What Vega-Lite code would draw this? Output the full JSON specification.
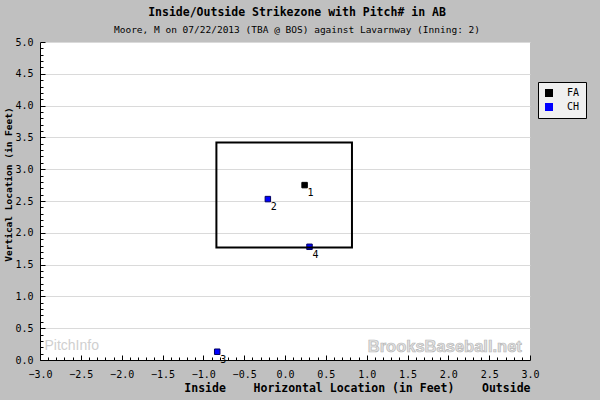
{
  "$schema": "https://vega.github.io/schema/vega-lite/v6.json",
  "autosize": {"type": "none"},
  "width": 490,
  "height": 318,
  "padding": {"left": 40, "top": 42, "right": 70, "bottom": 40},
  "background": "#c0c0c0",
  "config": {
    "view": {"fill": "#ffffff", "stroke": null},
    "font": "DejaVu Sans Mono"
  },
  "title": {
    "text": "Inside/Outside Strikezone with Pitch# in AB",
    "subtitle": "Moore, M on 07/22/2013 (TBA @ BOS) against Lavarnway (Inning: 2)",
    "anchor": "middle",
    "frame": "group",
    "dx": 12,
    "offset": 3,
    "font": "DejaVu Sans Mono",
    "fontSize": 11.5,
    "fontWeight": "bold",
    "color": "#000000",
    "subtitleFont": "DejaVu Sans Mono",
    "subtitleFontSize": 9.5,
    "subtitleColor": "#000000",
    "subtitlePadding": 6
  },
  "datasets": {
    "pitches": [
      {"num": 1, "type": "FA", "px": 0.24, "pz": 2.75},
      {"num": 2, "type": "CH", "px": -0.21, "pz": 2.53},
      {"num": 3, "type": "CH", "px": -0.83, "pz": 0.13},
      {"num": 4, "type": "CH", "px": 0.30, "pz": 1.78}
    ],
    "zone": [
      {"left": -0.84, "right": 0.82, "bottom": 1.77, "top": 3.42}
    ],
    "marks": [
      {"label": "PitchInfo", "x": -2.945, "y": 0.22}
    ],
    "marks2": [
      {"label": "BrooksBaseball.net", "x": 2.90, "y": 0.2}
    ]
  },
  "resolve": {"axis": {"x": "independent", "y": "independent"}},
  "layer": [
    {
      "data": {"name": "pitches"},
      "mark": {"type": "square", "filled": true, "size": 30, "strokeWidth": 1, "opacity": 1},
      "encoding": {
        "x": {
          "field": "px", "type": "quantitative",
          "scale": {"domain": [-3, 3], "nice": false, "zero": false},
          "axis": {
            "orient": "bottom",
            "values": [-3.0,-2.5,-2.0,-1.5,-1.0,-0.5,0.0,0.5,1.0,1.5,2.0,2.5,3.0],
            "format": ".1f",
            "grid": false,
            "domainColor": "#000000",
            "domainWidth": 1,
            "tickColor": "#000000",
            "tickSize": -5,
            "labelFont": "DejaVu Sans Mono",
            "labelFontSize": 10,
            "labelColor": "#000000",
            "labelPadding": 14,
            "labelFlush": false,
            "labelOverlap": false,
            "title": "Inside\u00a0\u00a0\u00a0\u00a0Horizontal Location (in Feet)\u00a0\u00a0\u00a0\u00a0Outside",
            "titleFont": "DejaVu Sans Mono",
            "titleFontSize": 11.5,
            "titleFontWeight": "bold",
            "titleColor": "#000000",
            "titleAnchor": "end",
            "titlePadding": 3,
            "zindex": 1
          }
        },
        "y": {
          "field": "pz", "type": "quantitative",
          "scale": {"domain": [0, 5], "nice": false, "zero": false},
          "axis": {
            "orient": "left",
            "values": [0.0,0.5,1.0,1.5,2.0,2.5,3.0,3.5,4.0,4.5,5.0],
            "format": ".1f",
            "grid": true,
            "gridColor": "#dadada",
            "gridWidth": 1,
            "domainColor": "#000000",
            "domainWidth": 1,
            "tickColor": "#000000",
            "tickSize": -5,
            "labelFont": "DejaVu Sans Mono",
            "labelFontSize": 10,
            "labelColor": "#000000",
            "labelPadding": 12,
            "labelFlush": false,
            "labelOverlap": false,
            "title": "Vertical Location (in Feet)",
            "titleFont": "DejaVu Sans Mono",
            "titleFontSize": 9.5,
            "titleFontWeight": "bold",
            "titleColor": "#000000",
            "titleY": 142,
            "titlePadding": 1,
            "zindex": 0
          }
        },
        "color": {
          "field": "type", "type": "nominal",
          "scale": {"domain": ["FA", "CH"], "range": ["#000000", "#0000ff"]},
          "legend": {
            "title": null,
            "orient": "none",
            "legendX": 498,
            "legendY": 40,
            "fillColor": "#f0f0f0",
            "strokeColor": "#000000",
            "padding": 6,
            "symbolType": "square",
            "symbolSize": 64,
            "symbolStrokeWidth": 0,
            "labelFont": "DejaVu Sans Mono",
            "labelFontSize": 10,
            "labelColor": "#000000",
            "labelOffset": 13,
            "rowPadding": 4,
            "symbolOpacity": 1
          }
        },
        "stroke": {
          "field": "type", "type": "nominal",
          "scale": {"domain": ["FA", "CH"], "range": ["#000000", "#000060"]},
          "legend": null
        }
      }
    },
    {
      "data": {"name": "zone"},
      "mark": {"type": "rect", "fill": null, "fillOpacity": 0, "stroke": "#000000", "strokeWidth": 2},
      "encoding": {
        "x": {
          "field": "left", "type": "quantitative",
          "axis": {
            "orient": "bottom",
            "values": [-2.9,-2.8,-2.7,-2.6,-2.4,-2.3,-2.2,-2.1,-1.9,-1.8,-1.7,-1.6,-1.4,-1.3,-1.2,-1.1,-0.9,-0.8,-0.7,-0.6,-0.4,-0.3,-0.2,-0.1,0.1,0.2,0.3,0.4,0.6,0.7,0.8,0.9,1.1,1.2,1.3,1.4,1.6,1.7,1.8,1.9,2.1,2.2,2.3,2.4,2.6,2.7,2.8,2.9],
            "labels": false,
            "domain": false,
            "grid": false,
            "tickColor": "#000000",
            "tickSize": -3,
            "title": null,
            "zindex": 1
          }
        },
        "x2": {"field": "right"},
        "y": {
          "field": "bottom", "type": "quantitative",
          "axis": {
            "orient": "left",
            "values": [0.1,0.2,0.3,0.4,0.6,0.7,0.8,0.9,1.1,1.2,1.3,1.4,1.6,1.7,1.8,1.9,2.1,2.2,2.3,2.4,2.6,2.7,2.8,2.9,3.1,3.2,3.3,3.4,3.6,3.7,3.8,3.9,4.1,4.2,4.3,4.4,4.6,4.7,4.8,4.9],
            "labels": false,
            "domain": false,
            "grid": false,
            "tickColor": "#000000",
            "tickSize": -3,
            "title": null,
            "zindex": 1
          }
        },
        "y2": {"field": "top"}
      }
    },
    {
      "data": {"name": "marks"},
      "mark": {"type": "text", "align": "left", "baseline": "middle", "font": "Liberation Sans", "fontSize": 14, "color": "#cfcfcf"},
      "encoding": {
        "x": {"field": "x", "type": "quantitative", "axis": null},
        "y": {"field": "y", "type": "quantitative", "axis": null},
        "text": {"field": "label"}
      }
    },
    {
      "data": {"name": "marks2"},
      "mark": {"type": "text", "align": "right", "baseline": "middle", "font": "Liberation Sans", "fontWeight": "bold", "fontSize": 16.5, "fill": "#e2e2e2", "stroke": "#b8b8b8", "strokeWidth": 0.7},
      "encoding": {
        "x": {"field": "x", "type": "quantitative", "axis": null},
        "y": {"field": "y", "type": "quantitative", "axis": null},
        "text": {"field": "label"}
      }
    },
    {
      "data": {"name": "pitches"},
      "mark": {"type": "text", "align": "center", "baseline": "middle", "dx": 6, "dy": 8, "font": "DejaVu Sans Mono", "fontSize": 10, "color": "#000000"},
      "encoding": {
        "x": {"field": "px", "type": "quantitative", "axis": null},
        "y": {"field": "pz", "type": "quantitative", "axis": null},
        "text": {"field": "num", "type": "quantitative"}
      }
    }
  ]
}
